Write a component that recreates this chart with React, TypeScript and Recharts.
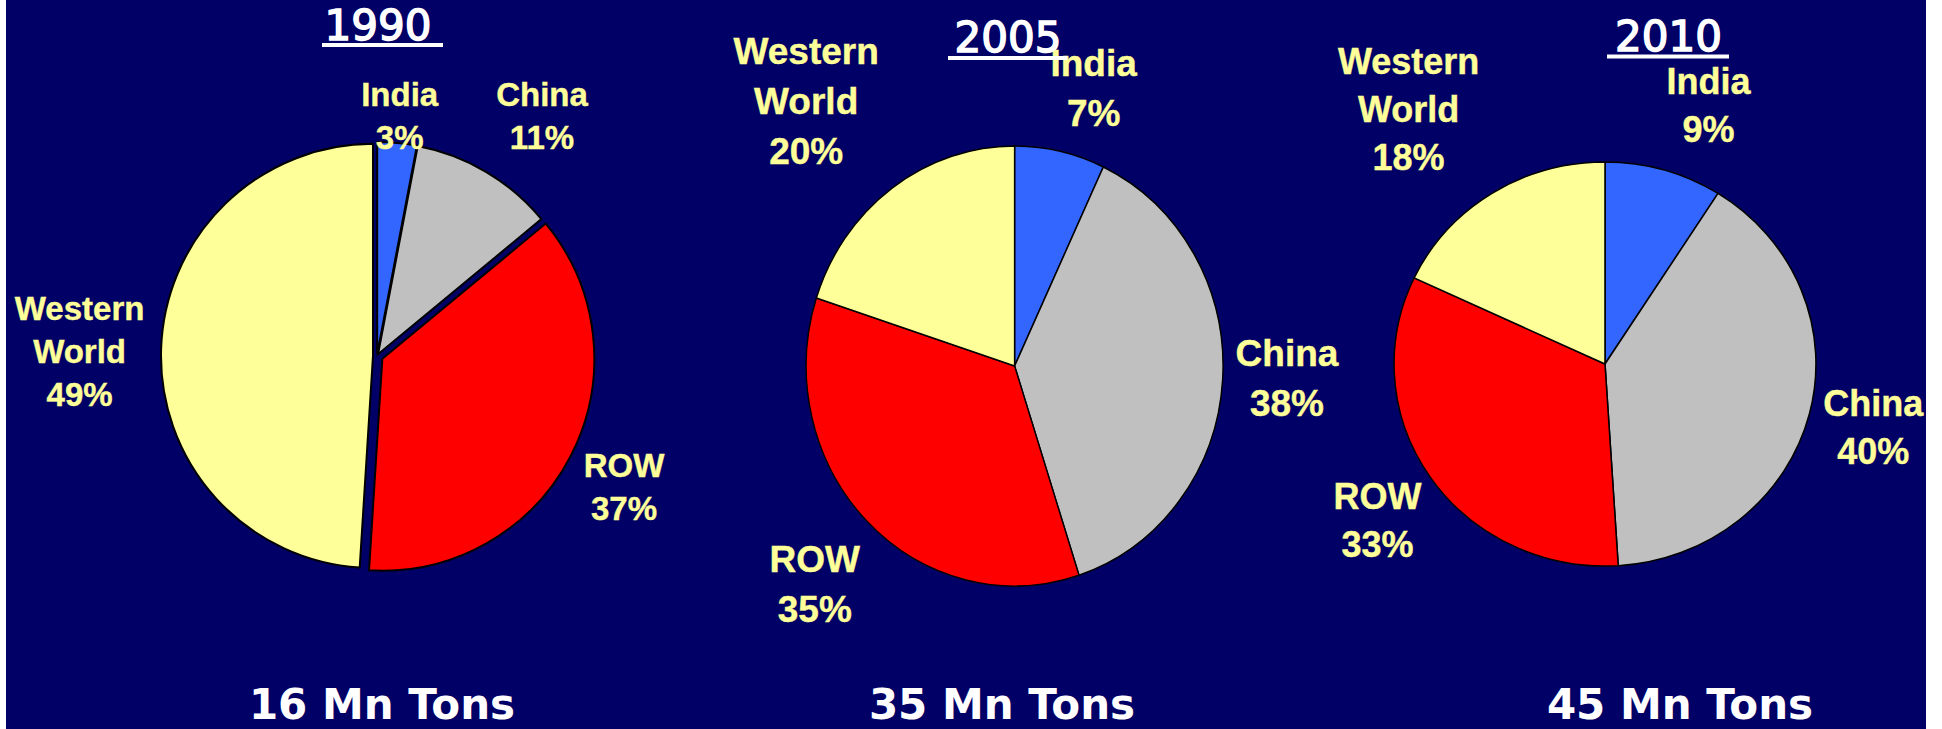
import { PieChart, Pie, Cell } from 'recharts'

// shares of world consumption, clockwise from 12 o'clock
const regions = ['India', 'China', 'ROW', 'Western World']
const years = ['1990', '2005', '2010']
const share1990 = [3, 11, 37, 49]
const share2005 = [7, 38, 35, 20]
const share2010 = [9, 40, 33, 18]
const totals = ['16 Mn Tons', '35 Mn Tons', '45 Mn Tons']

const sliceColors = ['#3366FF', '#C0C0C0', '#FF0000', '#FFFF99']
const NAVY = '#000066'
const LABEL_COLOR = '#FFFF99'
const RAD = Math.PI / 180

// per-pie placement: labels = [radius factor, angle nudge (deg, clockwise)]
const layout = [
  {
    cx: 377, cy: 356, r: 212, sx: 1, sy: 1, stroke: 2,
    font: 33, lineGap: 43,
    titleX: 378, titleY: 40, barX: 322, barW: 121, barY: 43,
    totalX: 382,
    explode: [2, 2, 6, 4],
    labels: [[1.137, 0], [1.374, 3.9], [1.318, 0.85], [1.403, -1]],
  },
  {
    cx: 1014.6, cy: 366, r: 214, sx: 0.974, sy: 1.028, stroke: 1.5,
    font: 37, lineGap: 50,
    titleX: 1008, titleY: 52, barX: 948, barW: 119, barY: 56,
    totalX: 1002,
    explode: [0, 0, 0, 0],
    labels: [[1.348, 3.3], [1.274, -1], [1.382, -2.5], [1.575, -2.2]],
  },
  {
    cx: 1605, cy: 364, r: 206, sx: 1.024, sy: 0.981, stroke: 1.5,
    font: 36, lineGap: 48,
    titleX: 1668.5, titleY: 51, barX: 1607, barW: 122, barY: 54.5,
    totalX: 1680,
    explode: [0, 0, 0, 0],
    labels: [[1.352, 5.6], [1.338, -1.1], [1.342, -0.4], [1.559, -5.3]],
  },
]

const shares = [share1990, share2005, share2010]

function makeLabel(cfg: any) {
  return (props: any) => {
    const { cx, cy, midAngle, outerRadius, index, name, value } = props
    const [f, nudge] = cfg.labels[index]
    const theta = (90 - midAngle + nudge) * RAD
    const d = outerRadius * f
    const x = cx + d * Math.sin(theta)
    const y = cy - d * Math.cos(theta)
    const lines = [...String(name).split(' '), `${value}%`]
    return (
      <text
        key={`lbl-${index}`}
        textAnchor="middle"
        fill={LABEL_COLOR}
        stroke={LABEL_COLOR}
        strokeWidth={0.4}
        fontFamily="'Liberation Sans', Arial, sans-serif"
        fontWeight="bold"
        fontSize={cfg.font}
      >
        {lines.map((t, i) => (
          <tspan
            key={i}
            x={x}
            y={y + (i - (lines.length - 1) / 2) * cfg.lineGap}
            dominantBaseline="central"
          >
            {t}
          </tspan>
        ))}
      </text>
    )
  }
}

function cellTransform(cfg: any, vals: number[], i: number) {
  const total = vals.reduce((a, b) => a + b, 0)
  const before = vals.slice(0, i).reduce((a, b) => a + b, 0)
  const theta = ((360 * (before + vals[i] / 2)) / total) * RAD
  const e = cfg.explode[i]
  const ex = e * Math.sin(theta)
  const ey = -e * Math.cos(theta)
  return `translate(${cfg.cx + ex} ${cfg.cy + ey}) scale(${cfg.sx} ${cfg.sy}) translate(${-cfg.cx} ${-cfg.cy})`
}

export default function App() {
  return (
    <div style={{ position: 'relative', width: 1942, height: 729, background: '#fff', overflow: 'hidden' }}>
      <style>{'body{margin:0}'}</style>
      <div style={{ position: 'absolute', left: 6, top: 0, width: 1920, height: 729, background: NAVY }} />
      <div style={{ position: 'absolute', left: 0, top: 0 }}>
        <PieChart width={1942} height={729} margin={{ top: 0, right: 0, bottom: 0, left: 0 }}>
          {layout.map((cfg, p) => {
            const vals = shares[p]
            const data = regions.map((name, i) => ({ name, value: vals[i] }))
            return (
              <Pie
                key={years[p]}
                data={data}
                dataKey="value"
                nameKey="name"
                cx={cfg.cx}
                cy={cfg.cy}
                outerRadius={cfg.r}
                startAngle={90}
                endAngle={-270}
                stroke="#000"
                strokeWidth={cfg.stroke}
                label={makeLabel(cfg)}
                labelLine={false}
                isAnimationActive={false}
              >
                {data.map((d, i) => (
                  <Cell
                    key={d.name}
                    fill={sliceColors[i]}
                    stroke="#000"
                    strokeWidth={cfg.stroke}
                    transform={cellTransform(cfg, vals, i)}
                  />
                ))}
              </Pie>
            )
          })}
        </PieChart>
      </div>
      <svg
        width={1942}
        height={729}
        style={{ position: 'absolute', left: 0, top: 0, pointerEvents: 'none' }}
      >
        {layout.map((cfg, p) => (
          <g key={years[p]}>
            <text
              x={cfg.titleX}
              y={cfg.titleY}
              textAnchor="middle"
              fill="#fff"
              stroke="#fff"
              strokeWidth={1.5}
              fontFamily="'DejaVu Sans', Verdana, sans-serif"
              fontSize={42}
            >
              {years[p]}
            </text>
            <rect x={cfg.barX} y={cfg.barY} width={cfg.barW} height={4} fill="#fff" />
            <text
              x={cfg.totalX}
              y={719}
              textAnchor="middle"
              fill="#fff"
              fontFamily="'DejaVu Sans', Verdana, sans-serif"
              fontWeight="bold"
              fontSize={42}
            >
              {totals[p]}
            </text>
          </g>
        ))}
      </svg>
    </div>
  )
}
